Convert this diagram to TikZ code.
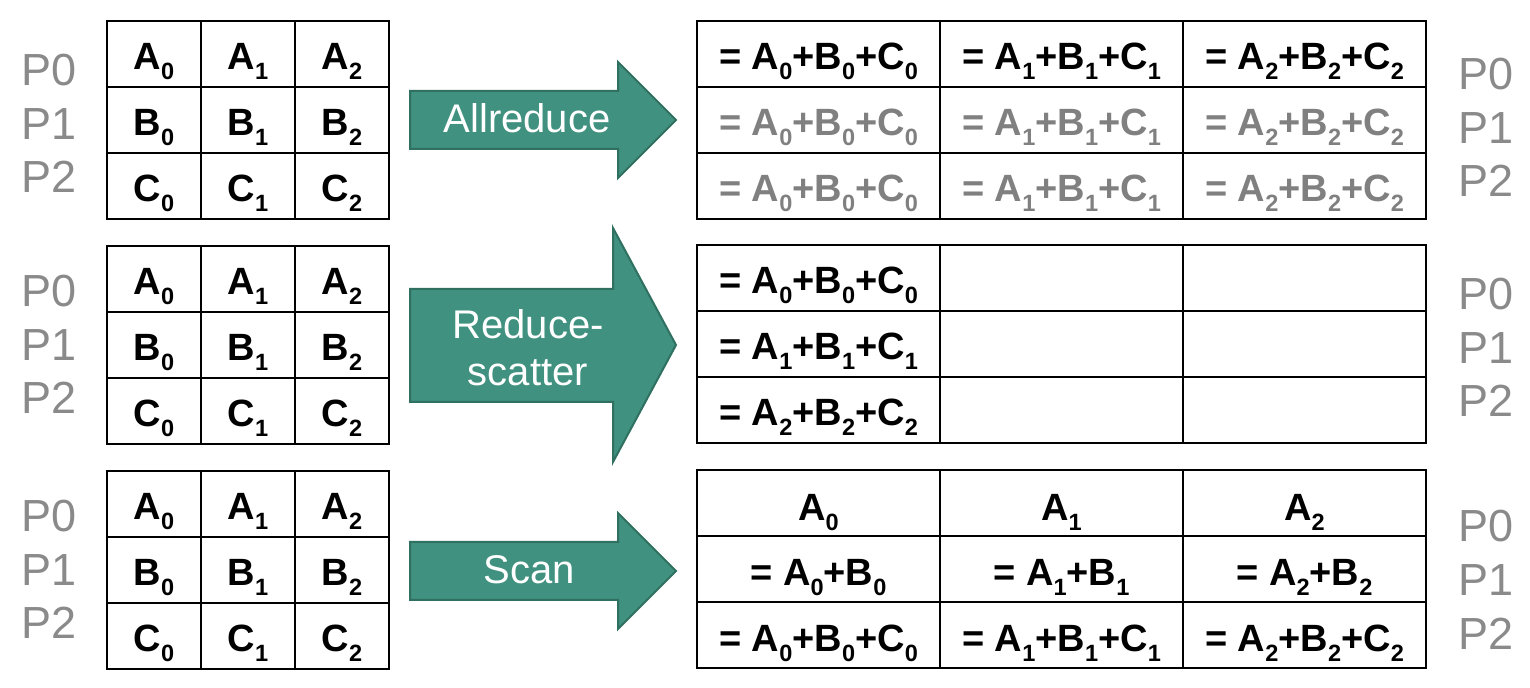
\documentclass[tikz,border=0pt]{standalone}
\usepackage{fontspec}
\setmainfont{Liberation Sans}

\definecolor{arrowfill}{RGB}{64,145,127}
\definecolor{arrowline}{RGB}{48,112,97}
\definecolor{procgray}{RGB}{138,138,138}
\definecolor{copygray}{RGB}{128,128,128}

\newcommand{\idx}[1]{\raisebox{-0.26em}{\scalebox{0.62}{#1}}}

\begin{document}
\begin{tikzpicture}[x=0.5pt, y=-0.5pt, line width=1.1pt,
    cell/.style={font=\bfseries\fontsize{19}{23}\selectfont, anchor=base, inner sep=0},
    proc/.style={font=\fontsize{22.5}{27}\selectfont, text=procgray, anchor=base west, inner sep=0},
    coll/.style={fill=arrowfill, draw=arrowline, line width=1pt, line join=miter},
    collname/.style={text=white, font=\fontsize{20}{23.5}\selectfont, align=center, inner sep=0}]

    \useasboundingbox (0,0) rectangle (1530,688);

    % donnees de depart
    \foreach \y/\n in {21/a,246/b,471/c} {
        \foreach \i in {0,1,2}
            \foreach \j in {0,1,2}
                \draw (107+94*\i,\y+66*\j) rectangle ++(94,66);
        \foreach \r [count=\j from 0] in {A,B,C}
            \foreach \i in {0,1,2}
                \node[cell] (l\n\j\i) at (154+94*\i,\y+66*\j+49) {\r\idx{\i}};
    }

    % processus
    %% gauche
    \foreach \y/\n in {86/a,307/b,532/c}
        \foreach \k in {0,1,2}
            \node[proc] (pl\n\k) at (20,\y+53.5*\k) {P\k};
    %% droite
    \foreach \y/\n in {90/a,310/b,542/c}
        \foreach \k in {0,1,2}
            \node[proc] (pr\n\k) at (1457,\y+53.5*\k) {P\k};

    % resultats
    \foreach \y in {21,245,470}
        \foreach \i in {0,1,2}
            \foreach \j in {0,1,2}
                \draw (697+243*\i,\y+66*\j) rectangle ++(243,66);
    %% allreduce
    \foreach \i in {0,1,2} {
        \node[cell] (ra0\i) at (818.5+243*\i,70) {= A\idx{\i}+B\idx{\i}+C\idx{\i}};
        \node[cell, text=copygray] (ra1\i) at (818.5+243*\i,136) {= A\idx{\i}+B\idx{\i}+C\idx{\i}};
        \node[cell, text=copygray] (ra2\i) at (818.5+243*\i,202) {= A\idx{\i}+B\idx{\i}+C\idx{\i}};
    }
    %% reduce-scatter
    \foreach \j in {0,1,2}
        \node[cell] (rb\j) at (818.5,245+66*\j+49) {= A\idx{\j}+B\idx{\j}+C\idx{\j}};
    %% scan
    \foreach \i in {0,1,2} {
        \node[cell] (rc0\i) at (818.5+243*\i,521) {A\idx{\i}};
        \node[cell] (rc1\i) at (818.5+243*\i,586) {= A\idx{\i}+B\idx{\i}};
        \node[cell] (rc2\i) at (818.5+243*\i,652) {= A\idx{\i}+B\idx{\i}+C\idx{\i}};
    }

    % fleches
    \draw[coll] (410,91) -- (618,91) -- (618,62) -- (676,120) -- (618,178) -- (618,149) -- (410,149) -- cycle;
    \node[collname] (allreduce) at (527,118) {Allreduce};

    \draw[coll] (410,289) -- (613,289) -- (613,228) -- (676,345) -- (613,462) -- (613,402) -- (410,402) -- cycle;
    \node[collname] (reducescatter) at (528,348) {Reduce-\\scatter};

    \draw[coll] (410,542) -- (618,542) -- (618,513) -- (676,571) -- (618,629) -- (618,600) -- (410,600) -- cycle;
    \node[collname] (scan) at (529,570) {Scan};

\end{tikzpicture}
\end{document}
